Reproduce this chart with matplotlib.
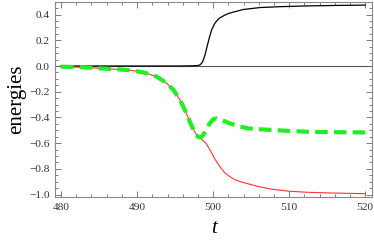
import matplotlib
matplotlib.use("Agg")
import matplotlib.pyplot as plt
from matplotlib.ticker import MultipleLocator

# black curve
t_black = [480, 490, 495, 497, 498, 498.3, 498.6, 498.9, 499.2, 499.5, 499.8, 500.2, 500.6, 500.9, 501.5, 502.0, 502.7, 504.0, 506.2, 509, 512, 516, 520]
v_black = [0.0, 0.0, 0.0, 0.001, 0.004, 0.01, 0.03, 0.08, 0.15, 0.22, 0.28, 0.33, 0.36, 0.375, 0.395, 0.408, 0.42, 0.44, 0.455, 0.462, 0.467, 0.471, 0.474]

# red curve
t_red = [480, 483, 485.1, 487.5, 489.5, 491, 492.6, 493.8, 494.8, 495.7, 496.5, 497.2, 497.8, 498.3, 498.7, 499.1, 499.6, 500.2, 500.9, 501.5, 502.2, 502.9, 503.6, 504.9, 506, 507.9, 510, 512.3, 515, 518, 520]
v_red = [-0.005, -0.01, -0.018, -0.026, -0.036, -0.052, -0.083, -0.13, -0.187, -0.27, -0.37, -0.47, -0.535, -0.563, -0.58, -0.605, -0.654, -0.72, -0.784, -0.828, -0.861, -0.885, -0.900, -0.921, -0.938, -0.960, -0.974, -0.982, -0.987, -0.991, -0.993]

# green dashed curve
t_green = [480, 483, 485.1, 487.5, 489.5, 491, 492.6, 493.8, 494.8, 495.7, 496.5, 497.2, 497.7, 498.1, 498.5, 499.0, 499.5, 500.0, 500.4, 501.0, 501.6, 502.2, 503.6, 504.6, 506, 507.9, 510, 512.3, 515, 518, 520]
v_green = [-0.005, -0.01, -0.018, -0.026, -0.036, -0.052, -0.083, -0.13, -0.187, -0.27, -0.37, -0.47, -0.53, -0.555, -0.55, -0.51, -0.45, -0.415, -0.407, -0.418, -0.432, -0.446, -0.472, -0.485, -0.492, -0.498, -0.505, -0.511, -0.514, -0.516, -0.517]

x_ticks = [480, 490, 500, 510, 520]
y_ticks = [-1.0, -0.8, -0.6, -0.4, -0.2, 0.0, 0.2, 0.4]

plt.rcParams['font.family'] = ['Liberation Serif', 'DejaVu Serif']
fig = plt.figure(figsize=(3.74, 2.45), dpi=100)
ax = fig.add_axes([55/374, 1-197/245, (372-55)/374, (197-2)/245])

ax.axhline(0, color='#555555', lw=0.8, zorder=1)
ax.plot(t_black, v_black, color='black', lw=0.9, zorder=3)
ax.plot(t_red, v_red, color='#ff3333', lw=0.8, zorder=3)
ax.plot(t_green, v_green, color='#22ee22', lw=3.0, dashes=(3.0, 1.5), zorder=4)

ax.set_xlim(479.2, 520.9)
ax.set_ylim(-1.019, 0.498)
ax.set_xticks(x_ticks)
ax.set_xticklabels([str(v) for v in x_ticks])
ax.set_yticks(y_ticks)
ax.set_yticklabels(["\u2212%.1f" % abs(v) if v < 0 else "%.1f" % v for v in y_ticks])
ax.xaxis.set_minor_locator(MultipleLocator(2))
ax.yaxis.set_minor_locator(MultipleLocator(0.05))
ax.tick_params(which='both', direction='in', top=True, right=True, colors='#666666', labelcolor='#333333', labelsize=8.2, width=0.6)
ax.tick_params(which='major', length=4, pad=4)
ax.tick_params(which='minor', length=2)
for s in ax.spines.values():
    s.set_color('#888888')
    s.set_linewidth(0.8)

ax.set_ylabel('energies', fontsize=15, labelpad=2)
ax.set_xlabel('t', fontsize=15, style='italic', labelpad=5)

fig.savefig('out.png', dpi=100)
